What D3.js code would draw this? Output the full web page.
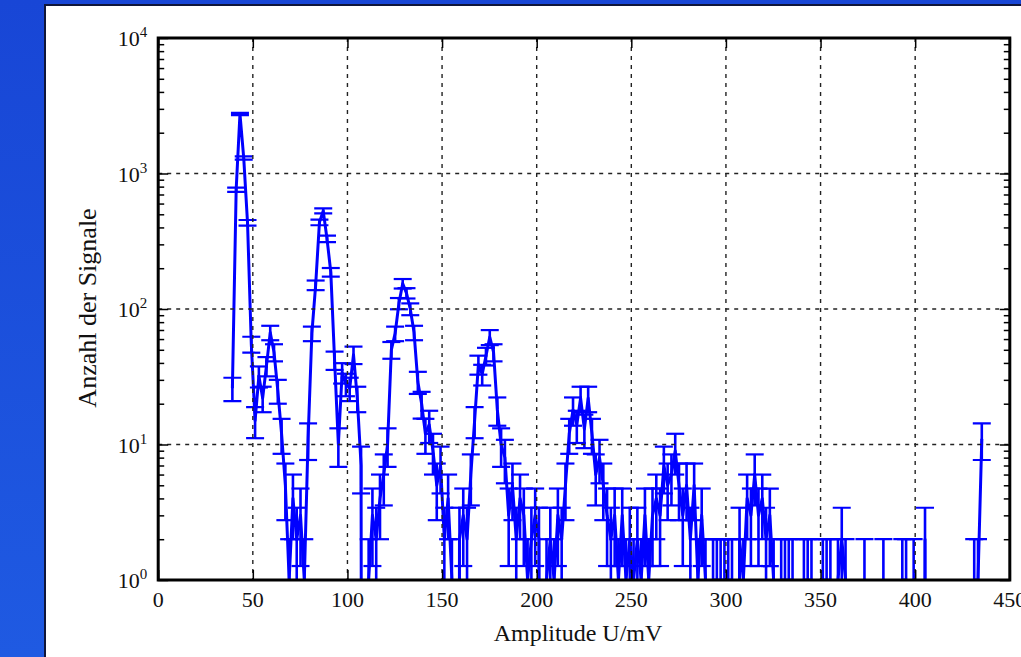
<!DOCTYPE html>
<html>
<head>
<meta charset="utf-8">
<script src="https://cdnjs.cloudflare.com/ajax/libs/d3/7.8.5/d3.min.js"></script>
<style>
  body { margin: 0; background: #ffffff; }
  svg { display: block; }
</style>
</head>
<body>
<div id="chart-area"></div>
<script>
// DATA
// pulse height histogram, 2 mV bins, first bin centred at 39.2 mV
const binFirst = 39.2
const binWidth = 2
const counts = [
  26, 760, 2750, 1300, 433, 55, 15, 32, 22, 38,
  67, 48, 25, 12, 5, 1, 4, 2, 3, 1,
  11, 66, 150, 436, 530, 330, 187, 42, 10, 34,
  28, 26, 46, 22, 7, 0, 1, 3, 2, 4,
  6, 10, 50, 66, 110, 154, 131, 100, 67, 29,
  20, 12, 14, 9, 5, 7, 2, 4, 1, 0,
  2, 3, 2, 6, 15, 39, 33, 45, 62, 48,
  18, 10, 8, 3, 5, 2, 4, 3, 1, 2,
  3, 2, 0, 1, 2, 1, 3, 2, 5, 12,
  18, 14, 22, 13, 22, 12, 6, 8, 5, 3,
  2, 3, 1, 3, 1, 2, 1, 2, 1, 3,
  1, 3, 4, 3, 7, 5, 6, 9, 5, 3,
  5, 2, 5, 1, 3, 1, 0, 1, 1, 1,
  1, 1, 1, 0, 2, 1, 4, 3, 6, 3,
  4, 2, 3, 1, 0, 1, 1, 1, 1, 0,
  0, 1, 1, 1, 0, 0, 1, 1, 1, 0,
  1, 2, 1, 0, 0, 0, 0, 1, 0, 0,
  0, 0, 1, 0, 0, 0, 0, 1, 1, 0,
  1, 0, 0, 2, 0, 0, 0, 0, 0, 0,
  0, 0, 0, 0, 0, 0, 1, 1, 11
]
const xTicks = [0, 50, 100, 150, 200, 250, 300, 350, 400, 450]
const yTicks = [1, 10, 100, 1000, 10000]
const xLabel = "Amplitude U/mV"
const yLabel = "Anzahl der Signale"

// CHART AREA, DIMENSIONS
const W = 1021, H = 657
const margin = { left: 158.2, top: 38, right: W - 1009.8, bottom: H - 580 }
const width = W - margin.left - margin.right
const height = H - margin.top - margin.bottom
const tiny = 1e-20 // zero counts fall far below the log axis

const svg = d3.select("#chart-area")
  .append("svg")
    .attr("width", W)
    .attr("height", H)

// slide background
const grad = svg.append("defs").append("linearGradient")
  .attr("id", "bg")
  .attr("x1", 0).attr("y1", 0).attr("x2", 0).attr("y2", 1)
grad.append("stop").attr("offset", "0%").attr("stop-color", "#1846d6")
grad.append("stop").attr("offset", "100%").attr("stop-color", "#1f5ae2")

svg.append("rect")
  .attr("width", W).attr("height", H)
  .attr("fill", "url(#bg)")

svg.append("rect")
  .attr("x", 45).attr("y", 5)
  .attr("width", W).attr("height", H)
  .attr("fill", "#ffffff")
  .attr("stroke", "#10163a")
  .attr("stroke-width", 2)

svg.select("defs").append("clipPath")
  .attr("id", "plot-clip")
  .append("rect")
    .attr("width", width).attr("height", height)

const chart = svg.append("g")
  .attr("transform", "translate(" + margin.left + ", " + margin.top + ")")

const xScale = d3.scaleLinear()
  .domain([0, 450])
  .range([0, width])

const yScale = d3.scaleLog()
  .domain([1, 10000])
  .range([height, 0])

const data = counts.map((n, i) => {
  const err = Math.sqrt(n)
  return {
    x: binFirst + i * binWidth,
    n: n,
    hi: n + err,
    lo: n - err
  }
})

const yv = (v) => yScale(v > 0 ? v : tiny)

// DATA (clipped to the frame)
const plot = chart.append("g")
  .attr("clip-path", "url(#plot-clip)")

const bars = plot.selectAll(".err")
  .data(data.filter((d) => d.n > 0))
  .enter()
  .append("g")
    .attr("class", "err")
    .attr("stroke", "#0000ff")
    .attr("stroke-width", 2.6)

bars.append("line")
  .attr("x1", (d) => xScale(d.x)).attr("x2", (d) => xScale(d.x))
  .attr("y1", (d) => yv(d.lo)).attr("y2", (d) => yv(d.hi))
bars.append("line")
  .attr("x1", (d) => xScale(d.x) - 9).attr("x2", (d) => xScale(d.x) + 9)
  .attr("y1", (d) => yv(d.hi)).attr("y2", (d) => yv(d.hi))
  .attr("stroke-width", 2.2)
bars.append("line")
  .attr("x1", (d) => xScale(d.x) - 9).attr("x2", (d) => xScale(d.x) + 9)
  .attr("y1", (d) => yv(d.lo)).attr("y2", (d) => yv(d.lo))
  .attr("stroke-width", 2.2)

const line = d3.line()
  .x((d) => xScale(d.x))
  .y((d) => yv(d.n))

plot.append("path")
  .datum(data)
  .attr("d", line)
  .attr("fill", "none")
  .attr("stroke", "#0000ff")
  .attr("stroke-width", 3)
  .attr("stroke-linejoin", "round")

// GRID (drawn over the data, like the original)
const grid = chart.append("g")
  .attr("stroke", "#222")
  .attr("stroke-width", 1.4)
  .attr("stroke-dasharray", "4,5")

grid.selectAll(".vgrid")
  .data(xTicks.slice(1, -1))
  .enter().append("line")
    .attr("x1", (d) => xScale(d)).attr("x2", (d) => xScale(d))
    .attr("y1", 0).attr("y2", height)

grid.selectAll(".hgrid")
  .data(yTicks.slice(1, -1))
  .enter().append("line")
    .attr("x1", 0).attr("x2", width)
    .attr("y1", (d) => yScale(d)).attr("y2", (d) => yScale(d))

// AXES, ticks on all four sides pointing inwards
const minor = []
yTicks.slice(0, -1).forEach((t) => {
  for (let m = 2; m <= 9; m++) minor.push(t * m)
})

chart.append("g")
  .attr("transform", "translate(0, " + height + ")")
  .call(d3.axisBottom(xScale).tickValues(xTicks).tickSize(-10).tickFormat(""))
chart.append("g")
  .call(d3.axisTop(xScale).tickValues(xTicks).tickSize(-10).tickFormat(""))
chart.append("g")
  .call(d3.axisLeft(yScale).tickValues(yTicks).tickSize(-10).tickFormat(""))
chart.append("g")
  .call(d3.axisLeft(yScale).tickValues(minor).tickSize(-6).tickFormat(""))
chart.append("g")
  .attr("transform", "translate(" + width + ", 0)")
  .call(d3.axisRight(yScale).tickValues(yTicks).tickSize(-10).tickFormat(""))
chart.append("g")
  .attr("transform", "translate(" + width + ", 0)")
  .call(d3.axisRight(yScale).tickValues(minor).tickSize(-6).tickFormat(""))

chart.selectAll(".domain").remove()
chart.selectAll(".tick line")
  .attr("stroke", "#000")
  .attr("stroke-width", 1.5)

chart.append("rect")
  .attr("width", width).attr("height", height)
  .attr("fill", "none")
  .attr("stroke", "#000")
  .attr("stroke-width", 3)

// TICK LABELS
const font = "'Liberation Serif', 'Times New Roman', serif"

chart.selectAll(".xlab")
  .data(xTicks)
  .enter().append("text")
    .attr("x", (d) => xScale(d))
    .attr("y", height + 27)
    .attr("text-anchor", "middle")
    .attr("font-family", font)
    .attr("font-size", "22px")
    .attr("fill", "#111")
    .text((d) => d)

const ylab = chart.selectAll(".ylab")
  .data(yTicks)
  .enter().append("text")
    .attr("x", -11)
    .attr("y", (d) => yScale(d) + 8)
    .attr("text-anchor", "end")
    .attr("font-family", font)
    .attr("font-size", "22px")
    .attr("fill", "#111")
ylab.append("tspan").text("10")
ylab.append("tspan")
  .attr("dy", -9)
  .attr("font-size", "15px")
  .text((d) => Math.round(Math.log10(d)))

// AXIS TITLES
svg.append("text")
  .attr("x", 578)
  .attr("y", 641)
  .attr("text-anchor", "middle")
  .attr("font-family", font)
  .attr("font-size", "24px")
  .attr("fill", "#111")
  .text(xLabel)

svg.append("text")
  .attr("transform", "translate(96, 308) rotate(-90)")
  .attr("text-anchor", "middle")
  .attr("font-family", font)
  .attr("font-size", "26px")
  .attr("fill", "#111")
  .text(yLabel)
</script>
</body>
</html>
